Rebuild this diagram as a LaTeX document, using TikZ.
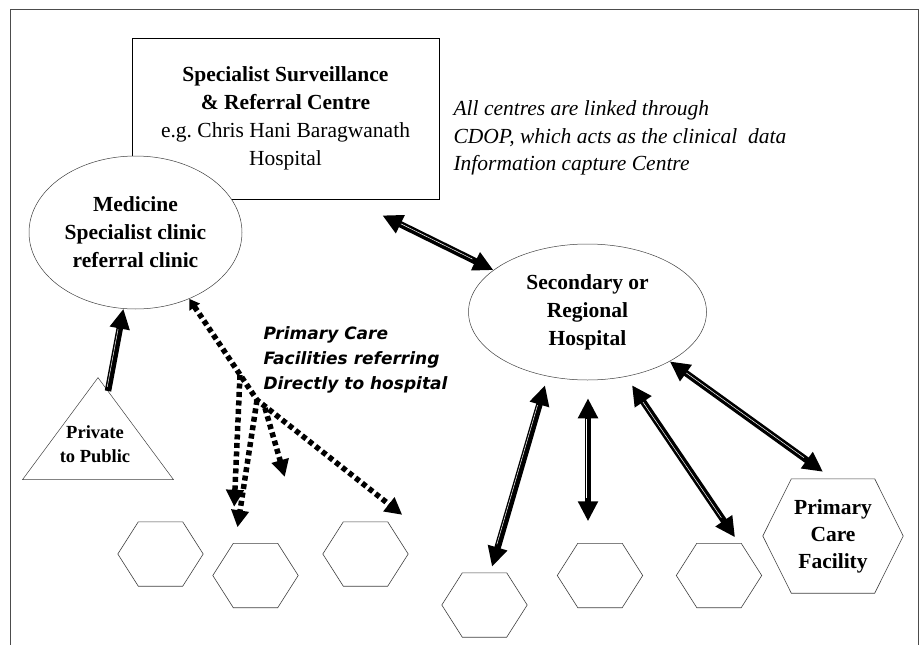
\documentclass[tikz,border=0pt]{standalone}
\usepackage{fontspec}
\setmainfont{Liberation Serif}
\newfontfamily\verdfont{DejaVu Sans}
\usetikzlibrary{shapes.geometric,arrows.meta,calc}

% outline of a flat-topped hexagon round the last node
\newcommand{\hexoutline}[1]{%
  \draw[black!75, line width=0.6pt] (\tikzlastnode.west)
    -- ([xshift=#1]\tikzlastnode.north west) -- ([xshift=-#1]\tikzlastnode.north east)
    -- (\tikzlastnode.east)
    -- ([xshift=-#1]\tikzlastnode.south east) -- ([xshift=#1]\tikzlastnode.south west)
    -- cycle;}

\begin{document}
\begin{tikzpicture}[
  x=1pt, y=-1pt,
  big/.style={font=\fontsize{21.5}{28}\selectfont\bfseries, align=center},
  oval/.style={ellipse, draw=black!75, line width=0.5pt, fill=white,
               inner sep=0pt, big},
  hexa/.style={minimum width=85pt, minimum height=64pt, inner sep=0pt,
               append after command={\pgfextra{\hexoutline{20.5pt}}}},
  hexbig/.style={minimum width=140pt, minimum height=114pt, inner sep=0pt,
                 font=\fontsize{21.5}{27}\selectfont\bfseries, align=center,
                 append after command={\pgfextra{\hexoutline{28.5pt}}}},
  tri/.style={isosceles triangle, isosceles triangle stretches,
              shape border rotate=90, minimum width=151pt, minimum height=102pt,
              inner sep=0pt, draw=black!75, line width=0.5pt},
  note/.style={font=\fontsize{21.5}{27.5}\selectfont\itshape, align=left},
  refer/.style={font=\verdfont\fontsize{17}{25}\selectfont\bfseries\itshape, align=left},
  streak/.style={postaction={draw=white, line width=0.5pt, -,
                 transform canvas={xshift=-1.3pt, yshift=1.3pt}, #1}},
  solidarr/.style={line width=6.5pt, -{Triangle[length=20pt,width=19pt]},
                   streak={shorten <=3pt, shorten >=22pt}},
  dblarr/.style={line width=6.5pt, {Triangle[length=20pt,width=19pt]}-{Triangle[length=20pt,width=19pt]},
                 streak={shorten <=22pt, shorten >=22pt}},
  dotarr/.style={line width=5.5pt, dash pattern=on 5pt off 3.5pt,
                 -{Triangle[length=17pt,width=17pt]}}
]
\useasboundingbox (0,0) rectangle (919,645);

%% frame
\draw[black!70, line width=0.7pt] (10,645) -- (10,9) -- (918,9) -- (918,645);

%% top centre and clinic
\node[draw, line width=0.8pt, minimum width=307pt, minimum height=161pt,
      font=\fontsize{21.5}{28}\selectfont, align=center] (spec) at (285.5,118.5)
  {\textbf{Specialist Surveillance}\\\textbf{\& Referral Centre}\\e.g.\ Chris Hani Baragwanath\\Hospital};
\node[oval, minimum width=213pt, minimum height=153pt] (med) at (135.5,232.5)
  {Medicine\\Specialist clinic\\referral clinic};
\node[note, anchor=west] (note) at (450,138)
  {All centres are linked through\\CDOP, which acts as the clinical~ data\\Information capture Centre};

%% regional hospital
\node[oval, minimum width=238pt, minimum height=136pt] (sec) at (587.5,312)
  {Secondary or\\Regional\\Hospital};

%% private to public
\node[tri, anchor=apex] (priv) at (98,377) {};
\node[font=\fontsize{18.5}{24}\selectfont\bfseries, align=center] (privtxt) at (95,444) {Private\\to Public};

%% primary care facilities
\node[hexa] (h1) at (160.5,554) {};
\node[hexa] (h2) at (255.5,575.5) {};
\node[hexa] (h3) at (365.5,554) {};
\node[hexa] (h4) at (484.5,605) {};
\node[hexa] (h5) at (600,575.5) {};
\node[hexa] (h6) at (719,575.5) {};
\node[hexbig] (pcf) at (833,536) {Primary\\Care\\Facility};

\node[refer, anchor=west] (refer) at (260,360) {Primary Care\\Facilities referring\\Directly to hospital};

%% referrals to the clinic
\coordinate (fkA) at (240,375);
\coordinate (fkB) at (257,400);
\coordinate (fkC) at (265,408);
\draw[dotarr, {Triangle[length=10pt,width=12pt]}-{Triangle[length=17pt,width=17pt]}]
  (med.309) -- (fkB) -- ($(h3.north east)+(-6,-7)$);
\draw[dotarr] (fkA) -- ($(h1.north east)+(31,-15)$);
\draw[dotarr] (fkB) -- ($(h2.north)+(-18,-16)$);
\draw[dotarr] (fkC) -- ($(h3.north west)+(-38,-45)$);
\draw[solidarr] ($(priv.apex)+(10,14)$) -- (med.261);

%% links to the regional hospital
\draw[dblarr] ($(spec.south east)+(-57,16)$) -- (sec.156);
\draw[dblarr] ($(h4.north)+(7.5,-6)$) -- ($(sec.south)+(-42.5,5)$);
\draw[dblarr] ($(h5.north)+(-12,-22)$) -- ($(sec.south)+(0.5,18)$);
\draw[dblarr] ($(h6.north)+(16,-6)$) -- ($(sec.south)+(44.5,5)$);
\draw[dblarr] ($(pcf.north)+(-10,-7)$) -- (sec.329);

\end{tikzpicture}
\end{document}
